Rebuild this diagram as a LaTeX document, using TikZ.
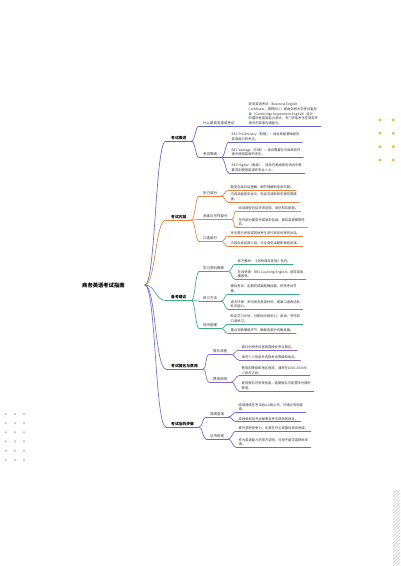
\documentclass[tikz,border=0pt]{standalone}
\usepackage{fontspec}
\setmainfont{Noto Sans CJK SC}
\usetikzlibrary{calc}
\definecolor{cA}{HTML}{6466CC}
\definecolor{cB}{HTML}{E8823F}
\definecolor{cC}{HTML}{3DAA80}
\definecolor{cD}{HTML}{8466C8}
\definecolor{cE}{HTML}{666CD6}
\definecolor{dotY}{HTML}{F5B731}
\definecolor{dotG}{HTML}{BDBDBD}
\definecolor{txt}{HTML}{333333}
\tikzset{
 mmline/.style={line width=0.65pt, line cap=round},
 rootnode/.style={font=\fontsize{5.3}{6}\selectfont\bfseries, text=black, inner sep=0pt},
 lvone/.style={font=\fontsize{3.8}{4.8}\selectfont\bfseries, text=black, inner xsep=5pt, inner ysep=1.3pt},
 lvtwo/.style={font=\fontsize{3.5}{4.5}\selectfont, text=txt, inner xsep=4pt, inner ysep=1.3pt},
 leaf/.style={font=\fontsize{3.3}{4.6}\selectfont, text=txt, inner xsep=2.5pt, inner ysep=1.2pt, align=left},
 ydot/.style={fill=dotY, draw=none},
 gdot/.style={fill=dotG, draw=none},
 hatch/.style={draw=black!22, line width=0.6pt},
}
\newcommand\mmtopic[6]{\node[#2, anchor=south west] (#1) at (#4,#5) {#6};
  \draw[#3, mmline] (#1.south west) -- (#1.south east);}
\newcommand\mmlink[3]{\draw[#1, mmline] (#2.south east) .. controls +(3.5,0) and +(-3.5,0) .. (#3.south west);}
\newcommand\mmroot[2]{\draw[#1, mmline] (rj) .. controls +(11,0) and +(-11,0) .. (#2.south west);}
\begin{document}
\begin{tikzpicture}[x=1pt, y=-1pt]
\fill[white] (0,0) rectangle (400,566);
\useasboundingbox (0,0) rectangle (400,566);

% decorations
\foreach \xx in {380,393.3} \foreach \yy in {120,133.3,146.7,160} \fill[ydot] (\xx,\yy) circle (1.6);
\foreach \xx in {5.7,15,24} \foreach \yy in {414,423.3,432.3,441.3,450.7,460} \fill[gdot] (\xx,\yy) circle (1.1);
\begin{scope}
\clip (393,490) rectangle (400,566);
\foreach \i in {0,...,32} \draw[hatch] (390,490+\i*3.3) -- (404,476+\i*3.3);
\end{scope}

% root
\node[rootnode, anchor=west] (root) at (82,285) {商务英语考试指南};
\coordinate (rj) at ($(root.east)+(20,0)$);

% branch A
\mmtopic{A}{lvone}{cA}{166}{141}{考试概述}
\mmtopic{A1}{lvtwo}{cA}{199}{126}{什么是商务英语考试}
\mmtopic{A1a}{leaf}{cA}{246}{126}{商务英语考试（Business English\\Certificate，简称BEC）是由剑桥大学考试委员\\会（Cambridge Assessment English）设计\\的国际性英语能力测试，专门评估考生在商务环\\境中的英语沟通能力。}
\mmtopic{A2}{lvtwo}{cA}{199}{157.5}{考试等级}
\mmtopic{A2a}{leaf}{cA}{229}{142}{BEC Preliminary（初级）：适合具备基础商务\\英语能力的考生。}
\mmtopic{A2b}{leaf}{cA}{229}{157.5}{BEC Vantage（中级）：适合需要在中级商务环\\境中使用英语的考生。}
\mmtopic{A2c}{leaf}{cA}{229}{173}{BEC Higher（高级）：适合在高级商务场合中需\\要流利使用英语的专业人士。}
\mmroot{cA}{A}
\mmlink{cA}{A}{A1}\mmlink{cA}{A}{A2}
\mmlink{cA}{A1}{A1a}
\mmlink{cA}{A2}{A2a}\mmlink{cA}{A2}{A2b}\mmlink{cA}{A2}{A2c}

% branch B
\mmtopic{B}{lvone}{cB}{166}{220}{考试内容}
\mmtopic{B1}{lvtwo}{cB}{199}{196}{听力部分}
\mmtopic{B1a}{leaf}{cB}{228}{190.5}{题型包括对话理解、细节理解和信息匹配。}
\mmtopic{B1b}{leaf}{cB}{228}{202}{内容涵盖商务会议、电话沟通和商务报告等情\\境。}
\mmtopic{B2}{lvtwo}{cB}{199}{219.5}{阅读与写作部分}
\mmtopic{B2a}{leaf}{cB}{236}{211.5}{阅读题型包括多项选择、填空和匹配题。}
\mmtopic{B2b}{leaf}{cB}{236}{227.5}{写作部分要求完成商务信函、报告或提案等任\\务。}
\mmtopic{B3}{lvtwo}{cB}{199}{241.5}{口语部分}
\mmtopic{B3a}{leaf}{cB}{228}{236}{考生需与考官或其他考生进行商务场景的对话。}
\mmtopic{B3b}{leaf}{cB}{228}{246.5}{内容包括自我介绍、讨论商务话题和角色扮演。}
\mmroot{cB}{B}
\mmlink{cB}{B}{B1}\mmlink{cB}{B}{B2}\mmlink{cB}{B}{B3}
\mmlink{cB}{B1}{B1a}\mmlink{cB}{B1}{B1b}
\mmlink{cB}{B2}{B2a}\mmlink{cB}{B2}{B2b}
\mmlink{cB}{B3}{B3a}\mmlink{cB}{B3}{B3b}

% branch C
\mmtopic{C}{lvone}{cC}{166}{300.5}{备考建议}
\mmtopic{C1}{lvtwo}{cC}{199}{271.5}{学习资料推荐}
\mmtopic{C1a}{leaf}{cC}{235}{264.3}{官方教材：《剑桥商务英语》系列。}
\mmtopic{C1b}{leaf}{cC}{235}{279.3}{在线资源：BBC Learning English、商务英语\\播客等。}
\mmtopic{C2}{lvtwo}{cC}{199}{301}{练习方法}
\mmtopic{C2a}{leaf}{cC}{228}{294}{模拟考试：定期完成真题模拟题，熟悉考试节\\奏。}
\mmtopic{C2b}{leaf}{cC}{228}{309.3}{语言环境：多听商务英语材料，提高口语表达和\\反应能力。}
\mmtopic{C3}{lvtwo}{cC}{199}{328.5}{时间管理}
\mmtopic{C3a}{leaf}{cC}{228}{324}{制定学习计划，分配时间给听力、阅读、写作和\\口语练习。}
\mmtopic{C3b}{leaf}{cC}{228}{333.5}{重点突破薄弱环节，确保各部分均衡发展。}
\mmroot{cC}{C}
\mmlink{cC}{C}{C1}\mmlink{cC}{C}{C2}\mmlink{cC}{C}{C3}
\mmlink{cC}{C1}{C1a}\mmlink{cC}{C1}{C1b}
\mmlink{cC}{C2}{C2a}\mmlink{cC}{C2}{C2b}
\mmlink{cC}{C3}{C3a}\mmlink{cC}{C3}{C3b}

% branch D
\mmtopic{D}{lvone}{cD}{166}{369}{考试报名与费用}
\mmtopic{D1}{lvtwo}{cD}{209}{354.5}{报名流程}
\mmtopic{D1a}{leaf}{cD}{239}{350}{通过剑桥考试官网或授权考点报名。}
\mmtopic{D1b}{leaf}{cD}{239}{360}{填写个人信息并选择考试等级和地点。}
\mmtopic{D2}{lvtwo}{cD}{209}{382}{费用说明}
\mmtopic{D2a}{leaf}{cD}{239}{375.7}{费用因等级和地区而异，通常在1000-2000元\\人民币之间。}
\mmtopic{D2b}{leaf}{cD}{239}{391}{提前报名可享受优惠，逾期报名可能需支付额外\\费用。}
\mmroot{cD}{D}
\mmlink{cD}{D}{D1}\mmlink{cD}{D}{D2}
\mmlink{cD}{D1}{D1a}\mmlink{cD}{D1}{D1b}
\mmlink{cD}{D2}{D2a}\mmlink{cD}{D2}{D2b}

% branch E
\mmtopic{E}{lvone}{cE}{166}{427}{考试后的步骤}
\mmtopic{E1}{lvtwo}{cE}{206}{417}{成绩查询}
\mmtopic{E1a}{leaf}{cE}{236}{412.3}{成绩通常在考试后4-6周公布，可通过官网查\\询。}
\mmtopic{E1b}{leaf}{cE}{236}{421.7}{成绩单和证书会邮寄至考生提供的地址。}
\mmtopic{E2}{lvtwo}{cE}{206}{439}{证书用途}
\mmtopic{E2a}{leaf}{cE}{236}{431}{提升求职竞争力，尤其在外企或国际商务领域。}
\mmtopic{E2b}{leaf}{cE}{236}{447.3}{作为英语能力的官方证明，可用于留学或移民申\\请。}
\mmroot{cE}{E}
\mmlink{cE}{E}{E1}\mmlink{cE}{E}{E2}
\mmlink{cE}{E1}{E1a}\mmlink{cE}{E1}{E1b}
\mmlink{cE}{E2}{E2a}\mmlink{cE}{E2}{E2b}
\end{tikzpicture}
\end{document}
